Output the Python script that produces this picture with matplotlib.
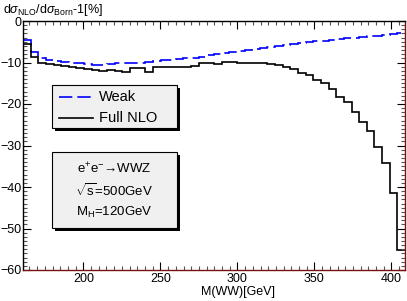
import numpy as np
import matplotlib
matplotlib.use("Agg")
import matplotlib.pyplot as plt
from matplotlib.patches import Rectangle
from matplotlib.ticker import MultipleLocator

plt.rcParams['font.family'] = ['Liberation Sans', 'DejaVu Sans']
plt.rcParams['mathtext.fontset'] = 'custom'
plt.rcParams['mathtext.rm'] = 'Liberation Sans'
plt.rcParams['mathtext.it'] = 'Liberation Sans:italic'
plt.rcParams['mathtext.sf'] = 'Liberation Sans'

# histogram binning: 2*MW .. sqrt(s)-MZ, 50 bins
m_lo, m_hi, nbins = 160.8, 408.8, 50

weak = [-4.6, -7.5, -9.0, -9.4, -9.6, -9.9, -10.0, -10.2, -10.4, -10.5,
        -10.5, -10.4, -10.2, -10.2, -10.1, -10.0, -9.9, -9.7, -9.5, -9.3,
        -9.2, -9.0, -8.8, -8.6, -8.3, -8.0, -7.8, -7.5, -7.3, -7.1,
        -6.8, -6.6, -6.3, -6.0, -5.8, -5.5, -5.3, -5.1, -4.9, -4.7,
        -4.5, -4.3, -4.2, -4.0, -3.8, -3.7, -3.5, -3.3, -3.1, -2.9]

full_nlo = [-5.5, -8.6, -10.0, -10.4, -10.6, -10.8, -11.2, -11.4, -11.6, -11.8,
            -12.0, -11.7, -12.0, -12.2, -11.3, -11.3, -12.4, -11.0, -11.0, -11.2,
            -11.2, -11.0, -10.8, -10.2, -10.2, -10.4, -9.8, -9.8, -10.0, -10.0,
            -10.2, -10.2, -10.4, -10.6, -11.0, -11.6, -12.6, -13.0, -14.2, -15.0,
            -16.5, -18.2, -19.6, -21.9, -24.4, -26.4, -30.3, -34.3, -41.4, -55.2]

W, H = 407, 301
fig = plt.figure(figsize=(W / 100, H / 100), dpi=100)
ax = fig.add_axes([23 / W, 1 - 270 / H, (405 - 23) / W, (270 - 21) / H])

edges = np.linspace(m_lo, m_hi, nbins + 1)
dash = (0, (8, 3))
ax.stairs(weak, edges, baseline=None, color='#0000ff', lw=1.2, ls=dash)
ax.stairs(full_nlo, edges, baseline=None, color='black', lw=1.2)

ax.set_xlim(m_lo, m_hi)
ax.set_ylim(-60, 0)
ax.xaxis.set_major_locator(MultipleLocator(50))
ax.xaxis.set_minor_locator(MultipleLocator(5))
ax.yaxis.set_major_locator(MultipleLocator(10))
ax.yaxis.set_minor_locator(MultipleLocator(1))
ax.tick_params(which='both', direction='in', top=True, right=True,
               labelsize=9, width=0.8)
ax.tick_params(axis='y', pad=1)
ax.tick_params(axis='x', pad=2)
ax.tick_params(which='major', length=6)
ax.tick_params(which='minor', length=3, color='#555555')
ax.spines['bottom'].set_color('#7a1010')
ax.spines['right'].set_color('#7a1010')
for s in ax.spines.values():
    s.set_linewidth(1.0)

fig.text(3 / W, 1 - 10 / H,
         r'd$\sigma_{\rm NLO}$/d$\sigma_{\rm Born}$-1[%]',
         fontsize=9, ha='left', va='center')
fig.text(238 / W, 1 - 292 / H, 'M(WW)[GeV]', fontsize=9,
         ha='center', va='center')


def box(x0, y0, x1, y1):
    # pixel coords, y from top; ROOT-style box with drop shadow
    sh = Rectangle(((x0 + 3) / W, 1 - (y1 + 3) / H), (x1 - x0) / W, (y1 - y0) / H,
                   transform=fig.transFigure, facecolor='black', edgecolor='none',
                   zorder=5)
    bx = Rectangle((x0 / W, 1 - y1 / H), (x1 - x0) / W, (y1 - y0) / H,
                   transform=fig.transFigure, facecolor='#f0f0f0',
                   edgecolor='black', lw=0.8, zorder=6)
    fig.add_artist(sh)
    fig.add_artist(bx)


box(52, 85, 177, 128)
fig.add_artist(plt.Line2D([59 / W, 93 / W], [1 - 97 / H] * 2, color='#0000ff',
                          lw=1.2, ls=dash, zorder=7))
fig.add_artist(plt.Line2D([59 / W, 93 / W], [1 - 118 / H] * 2, color='black',
                          lw=1.2, zorder=7))
fig.text(99 / W, 1 - 97 / H, 'Weak', fontsize=10.5, va='center', zorder=8)
fig.text(99 / W, 1 - 118 / H, 'Full NLO', fontsize=10.5, va='center', zorder=8)

box(52, 152, 177, 228)
fig.text(114 / W, 1 - 169 / H, r'e$^{+}$e$^{-}$→WWZ', fontsize=9.5,
         ha='center', va='center', zorder=8)
fig.text(114 / W, 1 - 191 / H, r'$\sqrt{\rm s}$=500GeV', fontsize=9.5,
         ha='center', va='center', zorder=8)
fig.text(114 / W, 1 - 212 / H, r'M$_{\rm H}$=120GeV', fontsize=9.5,
         ha='center', va='center', zorder=8)

fig.savefig('out.png', dpi=100)
